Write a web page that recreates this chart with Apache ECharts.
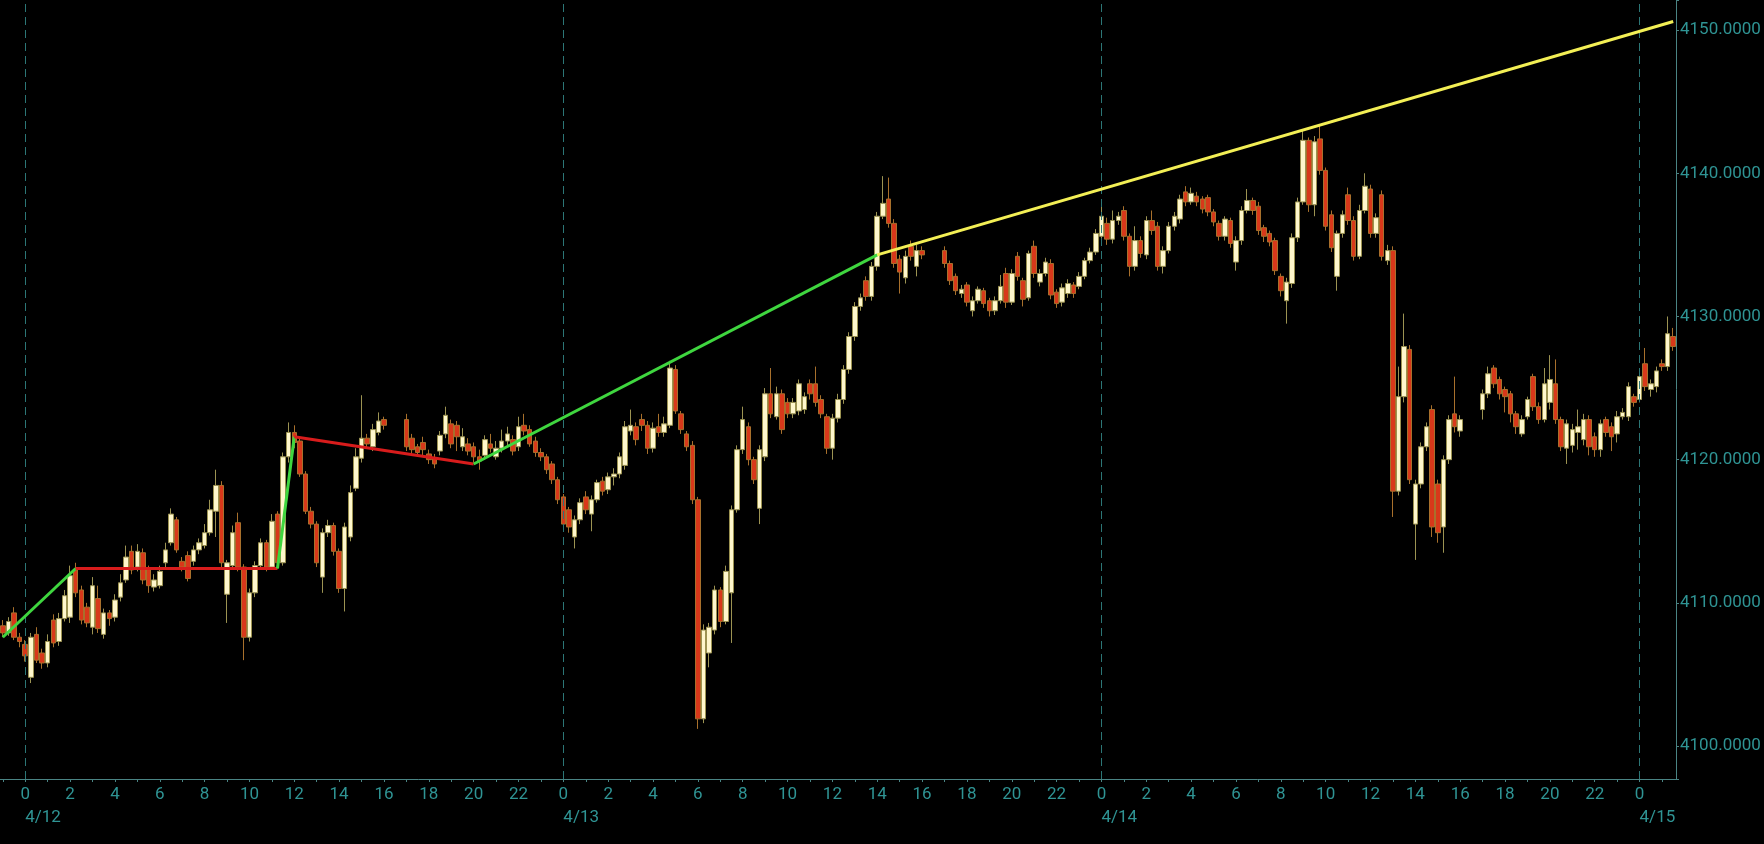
<!DOCTYPE html>
<html>
<head>
<meta charset="utf-8">
<script src="https://cdn.jsdelivr.net/npm/echarts@6/dist/echarts.min.js"></script>
<style>
html,body{margin:0;padding:0;background:#000;}
#chart{width:1764px;height:844px;}
</style>
</head>
<body>
<div id="chart"></div>
<script>
// ---- DATA (15-minute candles; h = hours from 4/12 00:00) : [h, open, close, low, high]
const candlesDay12 = [
[-1,4108.4,4107.9,4107.6,4108.8],[-0.75,4107.9,4108.7,4107.7,4109.0],[-0.5,4109.3,4107.6,4107.4,4109.7],[-0.25,4107.6,4107.3,4106.9,4107.9],
[0,4107.1,4106.3,4105.9,4107.4],[0.25,4104.8,4107.6,4104.4,4107.9],[0.5,4107.8,4106.0,4105.8,4108.3],[0.75,4106.5,4105.8,4105.4,4106.8],
[1,4105.8,4107.3,4105.5,4107.8],[1.25,4108.8,4107.2,4106.9,4109.2],[1.5,4107.3,4108.9,4107.0,4109.3],[1.75,4108.9,4110.5,4108.7,4110.9],
[2,4109.0,4111.9,4108.6,4112.6],[2.25,4112.3,4110.7,4110.4,4112.8],[2.5,4110.9,4108.8,4108.5,4111.2],[2.75,4109.7,4108.6,4108.3,4110.0],
[3,4108.3,4111.2,4107.8,4111.8],[3.25,4110.3,4108.2,4107.9,4111.2],[3.5,4107.8,4109.3,4107.5,4109.6],[3.75,4109.3,4108.9,4108.4,4109.5],
[4,4109.0,4110.2,4108.7,4110.6],[4.25,4110.4,4111.4,4110.1,4112.0],[4.5,4111.6,4113.2,4111.4,4114.0],[4.75,4113.6,4112.3,4112.0,4114.0],
[5,4112.5,4113.6,4112.2,4114.1],[5.25,4113.5,4111.6,4111.3,4113.8],[5.5,4112.4,4111.2,4110.7,4112.6],[5.75,4111.1,4111.6,4110.8,4112.0],
[6,4111.2,4112.2,4111.0,4112.6],[6.25,4112.8,4113.7,4112.5,4114.2],[6.5,4114.2,4116.2,4114.0,4116.6],[6.75,4115.8,4113.7,4113.5,4116.0],
[7,4112.9,4112.5,4112.2,4113.2],[7.25,4113.3,4111.7,4111.5,4113.6],[7.5,4112.9,4113.7,4112.6,4114.0],[7.75,4113.7,4114.2,4113.4,4114.5],
[8,4114.0,4114.9,4113.8,4115.5],[8.25,4114.9,4116.5,4114.7,4117.2],[8.5,4116.4,4118.2,4114.6,4119.3],[8.75,4118.2,4112.8,4112.5,4118.5],
[9,4110.6,4112.8,4108.6,4113.0],[9.25,4112.6,4114.9,4112.3,4115.4],[9.5,4115.6,4112.5,4112.2,4116.3],[9.75,4112.5,4107.6,4106.0,4112.7],
[10,4107.6,4110.7,4107.3,4111.0],[10.25,4110.7,4112.6,4110.4,4112.9],[10.5,4112.6,4114.2,4112.3,4114.5],[10.75,4114.2,4112.5,4112.2,4114.4],
[11,4112.5,4115.7,4112.3,4116.2],[11.25,4116.2,4112.8,4112.4,4116.4],[11.5,4112.8,4120.2,4112.6,4120.5],[11.75,4120.2,4121.9,4119.8,4122.6],
[12,4121.9,4121.2,4120.8,4122.4],[12.25,4121.3,4119.0,4118.8,4121.6],[12.5,4119.0,4116.4,4116.2,4119.2],[12.75,4116.4,4115.5,4115.2,4116.7],
[13,4115.5,4112.8,4112.5,4115.7],[13.25,4111.8,4114.9,4110.7,4115.2],[13.5,4114.9,4115.4,4114.6,4115.8],[13.75,4115.4,4113.6,4113.3,4115.6],
[14,4113.6,4111.0,4110.7,4113.8],[14.25,4111.0,4115.3,4109.4,4115.6],[14.5,4114.6,4117.7,4114.3,4118.2],[14.75,4118.0,4120.2,4117.8,4120.8],
[15,4120.1,4121.5,4119.8,4124.5],[15.25,4121.5,4121.1,4120.8,4121.8],[15.5,4120.9,4122.1,4120.6,4122.5],[15.75,4121.9,4122.7,4121.7,4123.3],
[16,4122.8,4122.4,4122.1,4123.0],
[17,4122.8,4120.9,4120.6,4123.2],[17.25,4121.5,4120.7,4120.4,4121.8],[17.5,4120.9,4120.5,4120.2,4121.1],[17.75,4121.2,4120.7,4120.3,4121.6],
[18,4120.4,4120.0,4119.7,4120.7],[18.25,4120.1,4119.7,4119.4,4120.4],[18.5,4120.6,4121.7,4120.3,4122.0],[18.75,4121.8,4123.1,4121.5,4123.7],
[19,4122.5,4121.1,4120.8,4122.8],[19.25,4122.4,4121.6,4120.6,4122.7],[19.5,4120.9,4121.6,4120.6,4122.2],[19.75,4121.1,4120.6,4120.3,4121.5],
[20,4120.9,4120.2,4119.8,4121.2],[20.25,4120.2,4119.9,4119.3,4120.7],[20.5,4120.3,4121.4,4120.0,4121.7],[20.75,4121.1,4120.8,4120.5,4121.8],
[21,4120.2,4120.8,4120.0,4121.3],[21.25,4120.8,4121.3,4120.5,4122.1],[21.5,4121.3,4121.8,4121.0,4122.3],[21.75,4121.4,4120.6,4120.3,4121.7],
[22,4120.9,4122.3,4120.6,4123.0],[22.25,4122.4,4122.0,4121.7,4123.2],[22.5,4122.1,4121.1,4120.9,4122.4],[22.75,4121.3,4120.5,4120.2,4121.6],
[23,4120.5,4120.2,4119.9,4120.8],[23.25,4120.2,4119.3,4119.0,4120.4],[23.5,4119.7,4118.6,4118.3,4119.9],[23.75,4118.6,4117.2,4116.9,4118.8]
];
const candlesDay13 = [
[24,4117.4,4115.5,4115.2,4117.6],[24.25,4116.5,4115.3,4114.9,4116.7],[24.5,4114.6,4115.8,4113.8,4116.1],[24.75,4115.8,4117.0,4115.5,4117.3],
[25,4117.4,4116.5,4116.2,4117.8],[25.25,4116.2,4117.2,4115.0,4117.5],[25.5,4117.2,4118.4,4117.0,4118.6],[25.75,4118.5,4117.8,4117.5,4118.8],
[26,4117.9,4118.8,4117.6,4119.1],[26.25,4118.8,4119.0,4118.2,4119.4],[26.5,4119.0,4120.2,4118.7,4120.5],[26.75,4119.6,4122.3,4119.3,4122.7],
[27,4122.0,4122.4,4121.7,4123.5],[27.25,4122.3,4121.4,4121.0,4122.6],[27.5,4122.8,4122.4,4122.0,4123.2],[27.75,4122.4,4120.8,4120.4,4122.7],
[28,4120.8,4122.2,4120.5,4122.6],[28.25,4122.3,4121.9,4121.6,4123.2],[28.5,4121.9,4122.5,4121.6,4123.0],[28.75,4122.4,4126.4,4122.2,4126.9],
[29,4126.3,4123.4,4123.2,4126.6],[29.25,4123.2,4122.1,4121.8,4123.4],[29.5,4121.8,4120.9,4120.6,4122.0],[29.75,4121.0,4117.2,4116.9,4121.3],
[30,4117.2,4101.9,4101.2,4117.4],[30.25,4101.9,4108.1,4101.6,4108.5],[30.5,4106.5,4108.3,4105.5,4108.6],[30.75,4108.1,4110.9,4107.8,4111.2],
[31,4110.9,4108.7,4108.3,4111.1],[31.25,4108.7,4112.2,4108.5,4112.6],[31.5,4110.7,4116.5,4107.2,4116.8],[31.75,4116.5,4120.7,4116.3,4121.0],
[32,4120.7,4122.8,4120.4,4123.7],[32.25,4122.3,4120.0,4119.6,4122.6],[32.5,4120.0,4118.6,4118.3,4120.2],[32.75,4116.6,4120.7,4115.5,4121.0],
[33,4120.2,4124.6,4119.9,4125.0],[33.25,4124.6,4123.2,4122.9,4126.4],[33.5,4123.0,4124.6,4122.8,4125.1],[33.75,4124.6,4122.1,4121.8,4124.9],
[34,4124.0,4123.2,4122.9,4124.3],[34.25,4123.2,4124.0,4122.9,4124.3],[34.5,4123.4,4125.3,4123.1,4125.6],[34.75,4123.5,4124.4,4123.2,4124.7],
[35,4125.3,4124.6,4124.2,4125.6],[35.25,4125.3,4124.0,4123.7,4126.5],[35.5,4124.2,4123.2,4122.9,4124.5],[35.75,4123.0,4120.8,4120.4,4123.2],
[36,4120.8,4122.9,4120.0,4123.2],[36.25,4122.9,4124.2,4122.6,4124.6],[36.5,4124.2,4126.3,4123.9,4126.6],[36.75,4126.3,4128.6,4126.0,4128.9],
[37,4128.6,4130.7,4128.3,4131.0],[37.25,4130.7,4131.3,4130.4,4131.6],[37.5,4132.5,4131.4,4131.1,4132.8],[37.75,4131.4,4133.5,4131.1,4133.8],
[38,4133.5,4137.0,4133.2,4137.3],[38.25,4137.0,4137.9,4136.8,4139.8],[38.5,4138.2,4136.5,4136.2,4139.7],[38.75,4136.5,4133.7,4133.4,4136.8],
[39,4134.0,4133.1,4131.6,4134.3],[39.25,4132.7,4134.2,4132.3,4134.6],[39.5,4134.9,4134.2,4133.9,4135.3],[39.75,4133.5,4134.6,4132.8,4135.0],
[40,4134.6,4134.3,4134.0,4134.9],
[41,4134.6,4133.7,4133.4,4134.9],[41.25,4133.7,4132.5,4132.2,4133.9],[41.5,4132.8,4131.8,4131.5,4133.0],[41.75,4131.6,4131.9,4131.3,4132.2],
[42,4132.2,4131.0,4130.7,4132.4],[42.25,4130.4,4131.1,4130.0,4131.4],[42.5,4131.1,4131.9,4130.9,4132.1],[42.75,4131.8,4130.9,4130.6,4132.0],
[43,4131.1,4130.4,4130.0,4131.3],[43.25,4130.4,4131.1,4130.1,4131.4],[43.5,4131.1,4132.1,4130.9,4132.9],[43.75,4133.0,4131.0,4130.6,4133.4],
[44,4131.0,4133.0,4130.8,4133.3],[44.25,4134.2,4132.8,4132.5,4134.5],[44.5,4132.5,4131.2,4130.7,4132.7],[44.75,4131.3,4134.4,4131.1,4134.6],
[45,4134.9,4133.0,4132.7,4135.3],[45.25,4132.4,4133.0,4132.1,4133.3],[45.5,4133.0,4133.8,4132.8,4134.1],[45.75,4133.7,4131.5,4131.2,4134.0],
[46,4131.7,4130.9,4130.6,4131.9],[46.25,4131.0,4132.0,4130.7,4132.3],[46.5,4131.6,4132.3,4131.3,4132.6],[46.75,4132.2,4131.6,4131.3,4132.4],
[47,4132.1,4132.8,4131.9,4133.1],[47.25,4132.8,4133.9,4132.6,4134.1],[47.5,4133.9,4134.5,4133.7,4134.8],[47.75,4134.5,4135.8,4134.3,4136.1]
];
const candlesDay14 = [
[48,4135.6,4137.0,4135.3,4137.8],[48.25,4136.5,4135.4,4135.0,4136.9],[48.5,4135.4,4136.7,4135.1,4137.4],[48.75,4136.7,4137.0,4136.4,4137.3],
[49,4137.4,4135.6,4135.3,4137.7],[49.25,4135.6,4133.5,4132.8,4135.8],[49.5,4133.5,4135.3,4133.2,4136.3],[49.75,4135.3,4134.4,4134.1,4135.6],
[50,4134.3,4136.7,4134.0,4137.0],[50.25,4136.7,4136.0,4135.7,4137.4],[50.5,4136.3,4133.5,4133.2,4136.6],[50.75,4133.5,4134.6,4133.0,4134.9],
[51,4134.6,4136.3,4134.4,4136.6],[51.25,4136.3,4137.0,4136.0,4137.3],[51.5,4136.8,4138.2,4136.5,4138.5],[51.75,4138.7,4138.0,4137.7,4139.1],
[52,4138.0,4138.6,4137.8,4139.0],[52.25,4138.4,4138.0,4137.7,4138.7],[52.5,4138.2,4137.5,4137.2,4138.4],[52.75,4138.3,4137.3,4137.0,4138.5],
[53,4137.3,4136.6,4136.3,4137.5],[53.25,4136.5,4135.6,4135.3,4136.7],[53.5,4135.6,4136.8,4135.3,4137.0],[53.75,4136.7,4135.1,4134.8,4136.9],
[54,4133.8,4135.3,4133.2,4135.6],[54.25,4135.3,4137.4,4135.0,4137.7],[54.5,4137.4,4138.1,4137.2,4138.9],[54.75,4138.1,4137.4,4137.1,4138.3],
[55,4137.7,4136.0,4135.7,4138.0],[55.25,4136.2,4135.6,4135.2,4136.4],[55.5,4135.8,4135.2,4134.9,4136.0],[55.75,4135.3,4133.2,4132.9,4135.5],
[56,4132.8,4131.8,4131.4,4133.0],[56.25,4131.1,4132.4,4129.5,4132.7],[56.5,4132.3,4135.5,4132.0,4135.8],[56.75,4135.5,4138.0,4135.2,4138.3],
[57,4138.0,4142.3,4137.8,4143.0],[57.25,4142.3,4137.8,4137.3,4142.5],[57.5,4137.8,4142.2,4137.0,4142.6],[57.75,4142.4,4140.2,4139.9,4143.3],
[58,4140.2,4136.3,4136.0,4140.4],[58.25,4137.1,4134.8,4134.5,4137.4],[58.5,4132.8,4135.8,4131.8,4136.0],[58.75,4135.8,4137.1,4135.5,4137.4],
[59,4138.5,4136.7,4136.4,4139.0],[59.25,4136.7,4134.2,4133.9,4137.0],[59.5,4134.2,4137.4,4134.0,4137.8],[59.75,4137.4,4139.1,4137.2,4140.0],
[60,4138.9,4135.8,4135.5,4139.2],[60.25,4135.8,4136.9,4135.5,4137.2],[60.5,4138.5,4134.2,4133.9,4138.8],[60.75,4133.9,4134.6,4133.6,4135.0],
[61,4134.6,4117.8,4116.0,4134.9],[61.25,4117.8,4124.4,4117.5,4126.5],[61.5,4124.4,4127.9,4124.0,4130.2],[61.75,4127.7,4118.6,4118.3,4128.0],
[62,4115.5,4118.3,4113.0,4118.6],[62.25,4118.3,4120.9,4118.0,4121.2],[62.5,4120.9,4122.3,4120.6,4122.6],[62.75,4123.5,4115.3,4114.6,4123.8],
[63,4118.3,4114.9,4114.2,4118.6],[63.25,4115.3,4120.0,4113.5,4120.3],[63.5,4120.0,4122.8,4119.7,4123.1],[63.75,4123.2,4122.3,4121.9,4125.8],
[64,4122.0,4122.8,4121.6,4123.1],
[65,4123.5,4124.6,4122.8,4124.9],[65.25,4124.6,4126.0,4124.3,4126.5],[65.5,4126.4,4125.3,4125.0,4126.6],[65.75,4125.6,4124.6,4124.2,4125.8],
[66,4124.9,4124.4,4123.3,4125.1],[66.25,4124.6,4123.2,4122.6,4124.8],[66.5,4123.2,4122.3,4121.8,4123.4],[66.75,4121.8,4122.8,4121.6,4123.1],
[67,4123.0,4124.2,4122.8,4124.4],[67.25,4125.8,4123.7,4123.4,4126.0],[67.5,4123.7,4122.8,4122.5,4124.0],[67.75,4122.8,4125.3,4122.6,4126.4],
[68,4124.0,4125.6,4123.5,4127.3],[68.25,4125.3,4122.8,4122.5,4127.0],[68.5,4122.8,4120.9,4120.6,4123.0],[68.75,4120.8,4122.5,4119.7,4122.8],
[69,4121.0,4122.1,4120.5,4122.5],[69.25,4121.9,4122.3,4120.7,4123.5],[69.5,4121.4,4122.8,4121.0,4123.2],[69.75,4122.8,4120.9,4120.3,4123.1],
[70,4121.6,4120.7,4120.2,4121.9],[70.25,4120.7,4122.5,4120.2,4122.8],[70.5,4122.8,4121.9,4121.6,4123.0],[70.75,4122.3,4121.6,4120.6,4122.6],
[71,4121.8,4123.0,4121.2,4123.4],[71.25,4123.0,4123.3,4122.8,4123.6],[71.5,4123.0,4125.1,4122.7,4125.4],[71.75,4124.4,4124.0,4123.7,4124.6]
];
const candlesDay15 = [
[72,4124.2,4125.8,4124.0,4126.0],[72.25,4126.7,4125.1,4124.8,4127.8],[72.5,4124.9,4125.3,4124.4,4125.6],[72.75,4125.1,4126.2,4124.7,4126.5],
[73,4126.7,4126.5,4126.2,4127.0],[73.25,4126.5,4128.8,4126.2,4130.0],[73.5,4128.6,4127.9,4127.6,4129.2]
];

// trend lines: [h, value]
const trendGreen1 = [[-1, 4107.6], [2.25, 4112.4]];
const trendRed1   = [[2.25, 4112.4], [11.25, 4112.4]];
const trendGreen2 = [[11.25, 4112.4], [12, 4121.6]];
const trendRed2   = [[12, 4121.6], [20, 4119.7]];
const trendGreen3 = [[20, 4119.7], [38, 4134.3]];
const trendYellow = [[38, 4134.3], [73.5, 4150.6]];

const dayStarts = ['4/12', '4/13', '4/14', '4/15'];
const yTickValues = [4100, 4110, 4120, 4130, 4140, 4150];

// ---- build category axis (15-minute slots from 4/11 23:00)
const SLOT_COUNT = 299;
const START = Date.UTC(2021, 3, 11, 23, 0);
const categories = [];
for (let i = 0; i < SLOT_COUNT; i++) {
  const d = new Date(START + i * 15 * 60000);
  categories.push((d.getUTCMonth() + 1) + '/' + d.getUTCDate() + ' ' +
    String(d.getUTCHours()).padStart(2, '0') + ':' + String(d.getUTCMinutes()).padStart(2, '0'));
}
const slotOf = h => Math.round((h + 1) * 4);
const ohlc = categories.map(() => ['-', '-', '-', '-']);
[].concat(candlesDay12, candlesDay13, candlesDay14, candlesDay15).forEach(r => {
  ohlc[slotOf(r[0])] = [r[1], r[2], r[3], r[4]];
});
const toLine = arr => arr.map(p => [categories[slotOf(p[0])], p[1]]);

const TEXT = '#2f9494';
const AXIS = '#4a8484';
const FONT = 'Roboto';

function lineSeries(data, color) {
  return { type: 'line', data: toLine(data), showSymbol: false, symbol: 'none', z: 5,
           lineStyle: { color: color, width: 3 }, silent: true, animation: false };
}

const chart = echarts.init(document.getElementById('chart'), null, { renderer: 'canvas' });
chart.setOption({
  backgroundColor: '#000000',
  animation: false,
  grid: { left: -1, right: 88, top: 0, bottom: 65, containLabel: false },
  xAxis: [{
    type: 'category', data: categories, position: 'bottom', boundaryGap: true,
    axisLine: { show: true, lineStyle: { color: AXIS, width: 1 } },
    axisTick: { show: true, alignWithLabel: true, length: 3, lineStyle: { color: AXIS },
                interval: (i) => (i - 4) % 4 === 0 },
    axisLabel: { show: true, color: TEXT, fontFamily: FONT, fontSize: 17, margin: 7,
                 interval: (i) => (i - 4) % 8 === 0,
                 formatter: (v) => String(parseInt(v.split(' ')[1], 10)) },
    splitLine: { show: false }
  }, {
    type: 'category', data: categories, position: 'bottom', boundaryGap: true,
    axisLine: { show: false }, axisTick: { show: false }, splitLine: { show: false },
    axisLabel: { show: true, color: TEXT, fontFamily: FONT, fontSize: 17, margin: 30, align: 'left',
                 interval: (i) => (i - 4) % 96 === 0,
                 formatter: (v) => v.split(' ')[0] }
  }],
  yAxis: {
    type: 'value', position: 'right', min: 4097.7, max: 4152.1, scale: true,
    axisLine: { show: true, lineStyle: { color: AXIS, width: 1 } },
    axisTick: { show: true, length: 3, lineStyle: { color: AXIS } },
    splitLine: { show: false },
    axisLabel: { color: TEXT, fontFamily: FONT, fontSize: 17, margin: 4,
                 formatter: (v) => yTickValues.some(t => Math.abs(t - v) < 1e-6) ? v.toFixed(4) : '' }
  },
  series: [
    {
      type: 'candlestick', data: ohlc, barWidth: 5, z: 2,
      itemStyle: { color: '#fff7cc', color0: '#d8381a', borderColor: '#9c9352', borderColor0: '#a8702c', borderWidth: 1 },
      markLine: {
        silent: true, symbol: ['none', 'none'], label: { show: false }, animation: false,
        lineStyle: { color: '#2c7676', width: 1, type: [8, 5] },
        emphasis: { disabled: true },
        data: dayStarts.map(d => ({ xAxis: d + ' 00:00' }))
      }
    },
    lineSeries(trendGreen1, '#3fd63f'),
    lineSeries(trendRed1, '#d81c1c'),
    lineSeries(trendGreen2, '#3fd63f'),
    lineSeries(trendRed2, '#d81c1c'),
    lineSeries(trendGreen3, '#3fd63f'),
    lineSeries(trendYellow, '#f3ef55')
  ]
});
</script>
</body>
</html>
